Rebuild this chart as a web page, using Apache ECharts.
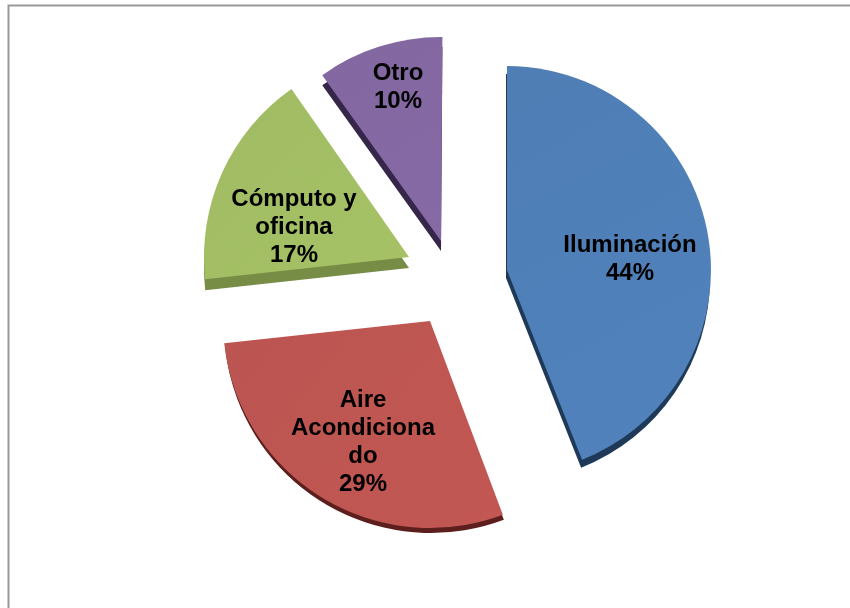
<!DOCTYPE html>
<html>
<head>
<meta charset="utf-8">
<style>
  html, body { margin: 0; padding: 0; background: #fff; }
  #chart { width: 850px; height: 608px; }
</style>
<script src="https://cdn.jsdelivr.net/npm/echarts@6/dist/echarts.min.js"></script>
</head>
<body>
<div id="chart"></div>
<script>
const categories = ["Iluminación", "Aire\nAcondiciona\ndo", "Cómputo y\noficina", "Otro"];
const values = [44, 29, 17, 10];
const colors = ["#4e7db5", "#bb5450", "#a0bb62", "#8166a0"];
const sideColors = ["#1f3a58", "#5c1f1d", "#778c45", "#35264a"];

// each slice is pulled out by hand, so each one gets its own pie
const layouts = [
  { center: [507, 270], r: 204, start: 90, side: [-1, 8], label: [630, 259] },
  { center: [430, 321], r: 207, start: 89, side: [1, 5], label: [363, 442] },
  { center: [409, 257], r: 205, start: 89, side: [0, 11], label: [294, 227] },
  { center: [441, 241], r: 204, start: 89.6, side: [0, 10], label: [398, 87] },
];

const chart = echarts.init(document.getElementById("chart"), null, { renderer: "canvas" });

const pieData = (active, color) =>
  values.map((v, i) => ({
    name: categories[i],
    value: v,
    itemStyle: { color: i === active ? color : "transparent", borderWidth: 0 },
    label: { show: false },
  }));

const series = [];
layouts.forEach((l, i) => {
  // dark copy underneath makes the side face
  series.push({
    type: "pie",
    silent: true,
    z: 2,
    startAngle: l.start,
    center: [l.center[0] + l.side[0], l.center[1] + l.side[1]],
    radius: [0, l.r],
    label: { show: false },
    labelLine: { show: false },
    data: pieData(i, sideColors[i]),
  });
  const data = pieData(i, {
    type: "linear", x: 0, y: 0, x2: 1, y2: 1,
    colorStops: [
      { offset: 0, color: echarts.color.lift(colors[i], 0.01) },
      { offset: 1, color: echarts.color.lift(colors[i], -0.04) },
    ],
  });
  data[i].label = {
    show: true,
    position: "inside",
    formatter: "{b}\n{c}%",
    color: "#000",
    fontFamily: "Liberation Sans",
    fontWeight: "bold",
    fontSize: 24,
    lineHeight: 28,
    align: "center",
  };
  series.push({
    type: "pie",
    silent: true,
    z: 3,
    startAngle: l.start,
    center: l.center,
    radius: [0, l.r],
    labelLine: { show: false },
    labelLayout: { x: l.label[0], y: l.label[1], align: "center", verticalAlign: "middle" },
    data: data,
  });
});

chart.setOption({
  animation: false,
  backgroundColor: "#fff",
  graphic: [
    {
      type: "rect",
      silent: true,
      shape: { x: 8.5, y: 5.5, width: 860, height: 620 },
      style: { fill: "none", stroke: "#999", lineWidth: 2 },
    },
  ],
  series: series,
});
</script>
</body>
</html>
